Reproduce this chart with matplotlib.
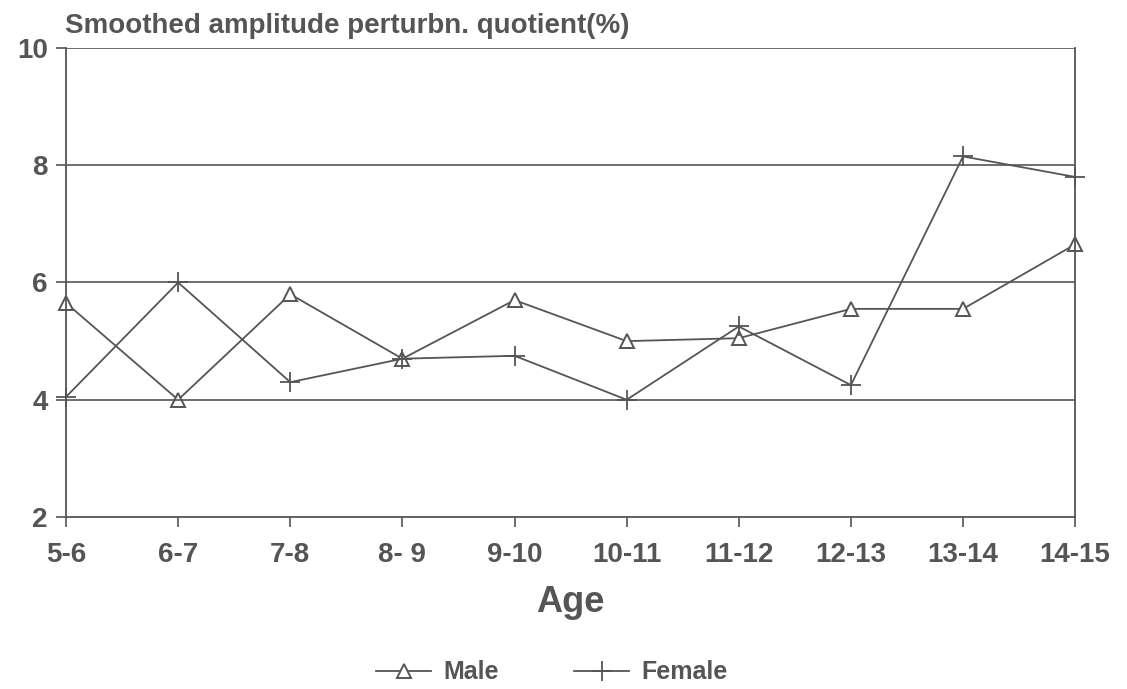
import matplotlib.pyplot as plt

# faixas etarias e valores
idades = ["5-6", "6-7", "7-8", "8- 9", "9-10", "10-11", "11-12", "12-13", "13-14", "14-15"]
masculino = [5.65, 4.0, 5.8, 4.7, 5.7, 5.0, 5.05, 5.55, 5.55, 6.65]
feminino = [4.05, 6.0, 4.3, 4.7, 4.75, 4.0, 5.25, 4.25, 8.15, 7.8]

cor = "#555555"
plt.rcParams['font.family'] = ['Liberation Sans', 'DejaVu Sans']

fig = plt.figure(figsize=(11.27, 6.89), dpi=100)
ax = fig.add_axes([0.0586, 0.2496, 0.8954, 0.6808])

x = range(len(idades))
ax.plot(x, masculino, color=cor, lw=1.3, marker='^', ms=10, mfc='white', mec=cor, mew=1.4, label="Male", clip_on=False)
ax.plot(x, feminino, color=cor, lw=1.3, marker='+', ms=14, mec=cor, mew=1.3, label="Female", clip_on=False)

ax.set_xlim(0, 9)
ax.set_ylim(2, 10)
ax.set_yticks([2, 4, 6, 8, 10])
ax.set_xticks(list(x))
ax.set_xticklabels(idades)
for yy in [4, 6, 8, 10]:
    ax.axhline(yy, color=cor, lw=1.2)

for s in ['left', 'right', 'bottom']:
    ax.spines[s].set_color(cor)
    ax.spines[s].set_linewidth(1.3)
ax.spines['top'].set_visible(False)
ax.tick_params(colors=cor, labelsize=20, length=7, width=1.2, direction='out')
for t in ax.get_xticklabels() + ax.get_yticklabels():
    t.set_fontweight('bold')
ax.tick_params(axis='x', pad=11)
ax.tick_params(axis='y', pad=6)

fig.text(0.058, 0.952, "Smoothed amplitude perturbn. quotient(%)", color=cor, fontsize=20, fontweight='bold')
ax.set_xlabel("Age", color=cor, fontsize=26, fontweight='bold', labelpad=12)

fig.legend(loc='center', bbox_to_anchor=(0.49, 0.024), ncol=2, frameon=False,
           prop={'size': 18, 'weight': 'bold'}, labelcolor=cor, handlelength=2.2,
           handletextpad=0.5, columnspacing=3)

fig.savefig("out.png")
plt.close()
